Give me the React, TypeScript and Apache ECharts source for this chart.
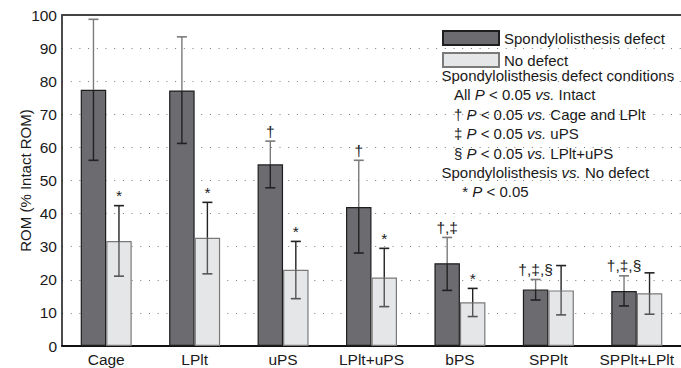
import React, { useEffect, useRef } from "react";
import * as echarts from "echarts";

const categories = ["Cage", "LPlt", "uPS", "LPlt+uPS", "bPS", "SPPlt", "SPPlt+LPlt"];
const defectMean = [77.4, 77.2, 54.9, 42.0, 25.0, 17.1, 16.6];
const defectHigh = [98.7, 93.4, 61.9, 56.1, 32.8, 20.1, 21.2];
const defectLow = [56.1, 61.2, 47.8, 28.1, 16.8, 13.9, 12.1];
const noDefectMean = [31.7, 32.7, 23.0, 20.7, 13.2, 16.8, 15.9];
const noDefectHigh = [42.4, 43.4, 31.6, 29.5, 17.4, 24.3, 22.1];
const noDefectLow = [21.1, 21.8, 14.3, 11.9, 8.9, 9.4, 9.6];
const defectMarks = ["", "", "†", "†", "†,‡", "†,‡,§", "†,‡,§"];
const noDefectMarks = ["*", "*", "*", "*", "*", "", ""];
const yTicks = { min: 0, max: 100, interval: 10 };
const yAxisTitle = "ROM (% Intact ROM)";

const seriesNames = ["Spondylolisthesis defect", "No defect"];
const notes = [
  { text: "{n|Spondylolisthesis defect conditions}", indent: false },
  { text: "{n|All }{i|P}{n| < 0.05 }{i|vs.}{n| Intact}", indent: true },
  { text: "{n|† }{i|P}{n| < 0.05 }{i|vs.}{n| Cage and LPlt}", indent: true },
  { text: "{n|‡ }{i|P}{n| < 0.05 }{i|vs.}{n| uPS}", indent: true },
  { text: "{n|§ }{i|P}{n| < 0.05 }{i|vs.}{n| LPlt+uPS}", indent: true },
  { text: "{n|Spondylolisthesis }{i|vs.}{n| No defect}", indent: false },
  { text: "{n|  * }{i|P}{n| < 0.05}", indent: true },
];

const FONT = "'Liberation Sans', Arial, Helvetica, sans-serif";
const TXT = "#1a1a1a";
const BAR_W = 25.5;

function errorSeries(
  name: string,
  mean: number[],
  low: number[],
  high: number[],
  marks: string[],
  offset: number,
  upColor: string,
  downColor: string
) {
  return {
    type: "custom",
    name: name + " error",
    z: 5,
    clip: false,
    silent: true,
    itemStyle: { color: TXT },
    data: categories.map((_, i) => [i, low[i], high[i], mean[i]]),
    renderItem: (params: any, api: any) => {
      const i = api.value(0);
      const lo = api.coord([i, api.value(1)]);
      const hi = api.coord([i, api.value(2)]);
      const mid = api.coord([i, api.value(3)]);
      const x = lo[0] + offset;
      const cap = 5;
      const children: any[] = [
        { type: "line", shape: { x1: x, y1: hi[1], x2: x, y2: mid[1] }, style: { stroke: upColor, lineWidth: 1.4 } },
        { type: "line", shape: { x1: x, y1: mid[1], x2: x, y2: lo[1] }, style: { stroke: downColor, lineWidth: 1.4 } },
        { type: "line", shape: { x1: x - cap, y1: hi[1], x2: x + cap, y2: hi[1] }, style: { stroke: upColor, lineWidth: 1.6 } },
        { type: "line", shape: { x1: x - cap, y1: lo[1], x2: x + cap, y2: lo[1] }, style: { stroke: downColor, lineWidth: 1.6 } },
      ];
      const m = marks[params.dataIndex];
      if (m) {
        children.push({
          type: "text",
          x: x,
          y: hi[1] - 2,
          style: {
            text: m,
            align: "center",
            verticalAlign: "bottom",
            fontSize: 15.5,
            fontFamily: FONT,
            fill: TXT,
          },
        });
      }
      return { type: "group", children };
    },
  };
}

export default function App() {
  const ref = useRef<HTMLDivElement>(null);
  useEffect(() => {
    if (!ref.current) return;
    const chart = echarts.init(ref.current, undefined, { renderer: "svg" });
    const lineH = 19.4;
    const graphicNotes: any[] = notes.map((n, k) => ({
      type: "text",
      left: n.indent ? 454 : 441.5,
      top: 77 + k * lineH - 9,
      style: {
        text: n.text,
        fill: TXT,
        font: `15px ${FONT}`,
        rich: {
          n: { fontSize: 15, fontFamily: FONT, fill: TXT, color: TXT },
          i: { fontSize: 15, fontFamily: FONT, fontStyle: "italic", fill: TXT, color: TXT },
        },
      },
      z: 10,
    }));
    graphicNotes.push({
      type: "text",
      x: 25,
      y: 180.5,
      rotation: Math.PI / 2,
      style: {
        text: yAxisTitle,
        align: "center",
        verticalAlign: "middle",
        fill: TXT,
        font: `15px ${FONT}`,
      },
      z: 10,
    });
    chart.setOption({
      animation: false,
      textStyle: { fontFamily: FONT },
      grid: { left: 62, top: 15, bottom: 22, right: -4, containLabel: false },
      legend: {
        data: seriesNames,
        orient: "vertical",
        left: 442,
        top: 30,
        itemWidth: 56,
        itemHeight: 14,
        itemGap: 6,
        icon: "rect",
        padding: 0,
        textStyle: { fontSize: 15, color: TXT, fontFamily: FONT, padding: [0, 0, 0, 0] },
        selectedMode: false,
      },
      graphic: graphicNotes,
      xAxis: [
        {
          type: "category",
          data: categories,
          axisLine: { lineStyle: { color: "#111", width: 2 } },
          axisTick: { show: false },
          axisLabel: { fontSize: 15.5, color: TXT, margin: 5, fontFamily: FONT, interval: 0 },
          splitLine: { show: false },
        },
        {
          type: "category",
          data: categories,
          position: "top",
          axisLine: { show: true, lineStyle: { color: "#444", width: 2 } },
          axisTick: { show: false },
          axisLabel: { show: false },
          splitLine: { show: false },
        },
      ],
      yAxis: {
        type: "value",
        min: yTicks.min,
        max: yTicks.max,
        interval: yTicks.interval,
        axisLine: { show: true, lineStyle: { color: "#111", width: 1.5 } },
        axisTick: { show: false },
        axisLabel: { fontSize: 15.5, color: TXT, margin: 5, fontFamily: FONT },
        splitLine: { show: true, lineStyle: { color: "#777", width: 1, type: [1, 7.7] } },
      },
      series: [
        {
          name: seriesNames[0],
          type: "bar",
          data: defectMean,
          barWidth: BAR_W,
          barGap: "0%",
          z: 2,
          itemStyle: { color: "#6b6b70", borderColor: "#1e1e1e", borderWidth: 1.2 },
        },
        {
          name: seriesNames[1],
          type: "bar",
          data: noDefectMean,
          barWidth: BAR_W,
          barGap: "0%",
          z: 2,
          itemStyle: { color: "#e5e6e8", borderColor: "#7a7a7a", borderWidth: 1.2 },
        },
        errorSeries(seriesNames[0], defectMean, defectLow, defectHigh, defectMarks, -BAR_W / 2, "#7a7a7a", "#222"),
        errorSeries(seriesNames[1], noDefectMean, noDefectLow, noDefectHigh, noDefectMarks, BAR_W / 2, "#222", "#555"),
      ],
    });
    return () => chart.dispose();
  }, []);
  return (
    <div
      ref={ref}
      style={{ position: "absolute", left: 0, top: 0, width: 681, height: 368 }}
    />
  );
}
